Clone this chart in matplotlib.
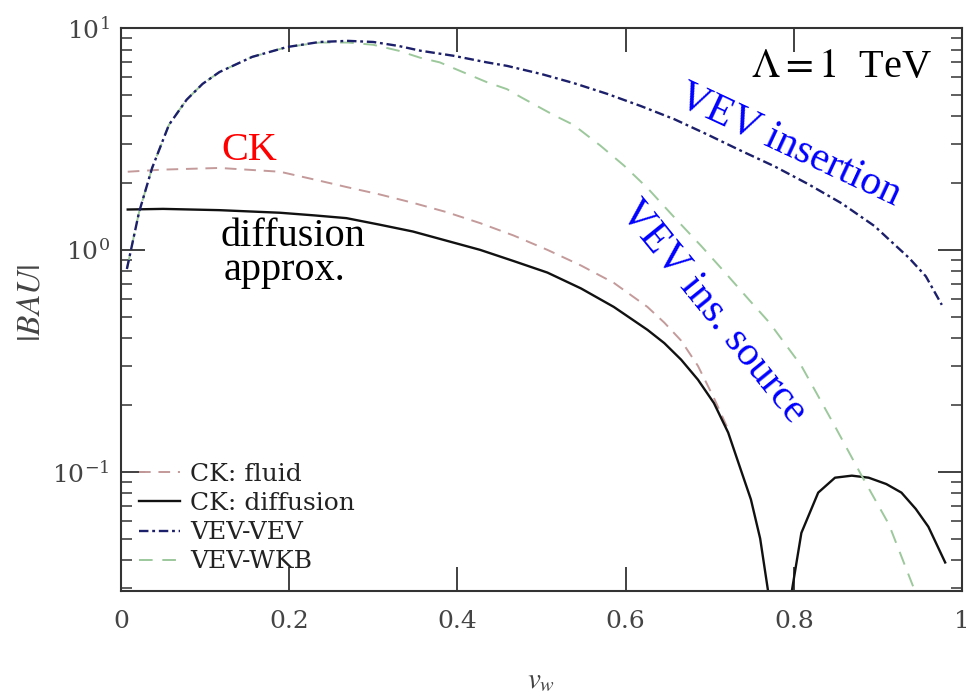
import matplotlib
matplotlib.use("Agg")
import matplotlib.pyplot as plt
from matplotlib.ticker import LogLocator, NullLocator, FixedLocator

plt.rcParams['font.family'] = ['DejaVu Serif']
plt.rcParams['mathtext.fontset'] = 'stix'

# ---- data ----
vw_vev = [0.007, 0.0215, 0.037, 0.057, 0.078, 0.097, 0.117, 0.156, 0.197, 0.236,
          0.27, 0.30, 0.33, 0.356, 0.395, 0.435, 0.459, 0.50, 0.538, 0.578,
          0.618, 0.658, 0.698, 0.737, 0.777, 0.817, 0.857, 0.896, 0.917, 0.937,
          0.957, 0.976]
bau_vev = [0.82, 1.48, 2.34, 3.66, 4.75, 5.6, 6.33, 7.41, 8.2, 8.65,
           8.75, 8.65, 8.3, 7.9, 7.5, 7.0, 6.75, 6.2, 5.65, 5.05,
           4.45, 3.88, 3.30, 2.80, 2.38, 1.98, 1.62, 1.28, 1.08, 0.92,
           0.76, 0.565]

vw_wkb = [0.007, 0.0215, 0.037, 0.057, 0.078, 0.097, 0.117, 0.156, 0.197, 0.236,
          0.27, 0.30, 0.33, 0.356, 0.379, 0.395, 0.435, 0.459, 0.475, 0.514,
          0.538, 0.570, 0.598, 0.626, 0.658, 0.690, 0.717, 0.746, 0.771, 0.809,
          0.849, 0.880, 0.913, 0.944]
bau_wkb = [0.82, 1.48, 2.34, 3.66, 4.75, 5.6, 6.33, 7.41, 8.2, 8.6,
           8.6, 8.4, 7.9, 7.34, 7.0, 6.6, 5.7, 5.3, 4.89, 4.06,
           3.66, 2.95, 2.40, 1.90, 1.40, 1.04, 0.80, 0.60, 0.47, 0.30,
           0.16, 0.097, 0.058, 0.029]

vw_fluid = [0.008, 0.05, 0.117, 0.189, 0.236, 0.268, 0.307, 0.347, 0.387, 0.427,
            0.467, 0.507, 0.547, 0.586, 0.626, 0.646, 0.666, 0.686, 0.705, 0.722]
bau_fluid = [2.25, 2.3, 2.34, 2.25, 2.05, 1.92, 1.78, 1.63, 1.48, 1.32,
             1.16, 1.0, 0.85, 0.71, 0.553, 0.47, 0.39, 0.30, 0.215, 0.155]

vw_diff = [0.008, 0.05, 0.117, 0.189, 0.23, 0.268, 0.307, 0.347, 0.387, 0.427,
           0.467, 0.507, 0.547, 0.586, 0.626, 0.646, 0.666, 0.686, 0.705, 0.722,
           0.737, 0.749, 0.760, 0.770, 0.783, 0.797, 0.809, 0.829, 0.849, 0.869,
           0.889, 0.910, 0.928, 0.945, 0.960, 0.980]
bau_diff = [1.52, 1.53, 1.51, 1.47, 1.43, 1.39, 1.30, 1.21, 1.10, 1.0,
            0.89, 0.79, 0.67, 0.553, 0.436, 0.38, 0.32, 0.26, 0.204, 0.15,
            0.102, 0.075, 0.05, 0.028, 0.001, 0.028, 0.053, 0.0805, 0.094, 0.096,
            0.094, 0.088, 0.0805, 0.068, 0.0565, 0.039]

labels = ["CK: fluid", "CK: diffusion", "VEV-VEV", "VEV-WKB"]
xticks = [0, 0.2, 0.4, 0.6, 0.8, 1]
xticklabels = ["0", "0.2", "0.4", "0.6", "0.8", "1"]

fig = plt.figure(figsize=(9.66, 6.98), dpi=100)
ax = fig.add_axes([121/966, 1-591/698, (962-121)/966, (591-28)/698])

l1, = ax.plot(vw_fluid, bau_fluid, color='#c49a9a', lw=1.4, dashes=(6, 4), label=labels[0])
l2, = ax.plot(vw_diff, bau_diff, color='#111111', lw=1.7, label=labels[1])
l4, = ax.plot(vw_wkb, bau_wkb, color='#9cc89c', lw=1.4, dashes=(7, 5), label=labels[3])
l3, = ax.plot(vw_vev, bau_vev, color='#1c1f6a', lw=1.7, dashes=(4, 1.6, 1.2, 1.6), label=labels[2])

ax.set_yscale('log')
ax.set_xlim(0, 1)
ax.set_ylim(0.029, 10)
ax.xaxis.set_major_locator(FixedLocator(xticks))
ax.set_xticklabels(xticklabels)
ax.xaxis.set_minor_locator(NullLocator())
ax.yaxis.set_major_locator(LogLocator(base=10))
ax.yaxis.set_minor_locator(LogLocator(base=10, subs=range(2, 10)))

ax.tick_params(which='both', direction='in', top=True, right=True, colors='#333333',
               labelcolor='#444444', labelsize=18)
ax.tick_params(which='major', length=17, width=1.3)
ax.tick_params(which='minor', length=8, width=1.1)
ax.tick_params(axis='x', pad=14)
ax.tick_params(axis='y', pad=8)
for s in ax.spines.values():
    s.set_color('#333333')
    s.set_linewidth(1.5)

ax.legend(handles=[l1, l2, l3, l4], loc='lower left', bbox_to_anchor=(0.0, 0.0),
          frameon=False, fontsize=18, handlelength=1.65, handletextpad=0.4,
          labelspacing=0.25, borderaxespad=0.3, labelcolor='#222222')

fig.text(30/966, 1-303/698, r'$|BAU|$', rotation=90, ha='center', va='center',
         fontsize=24, color='#444444')
fig.text(0.5*(121+962)/966, 1-680/698, r'$v_w$', ha='center', va='center',
         fontsize=21, color='#444444')

serif = 'Liberation Serif'
ax.text(0.964, 0.913, r'$\Lambda = 1$  TeV', transform=ax.transAxes, ha='right',
        va='baseline', fontsize=29, color='black', family=serif)
ax.text(0.153, 2.79, 'CK', color='red', fontsize=29, ha='center', va='center', family=serif)
ax.text(0.205, 1.04, 'diffusion', color='black', fontsize=29, ha='center', va='baseline',
        family=serif)
ax.text(0.195, 0.73, 'approx.', color='black', fontsize=29, ha='center', va='baseline',
        family=serif)
ax.text(0.795, 2.97, 'VEV insertion', color='blue', fontsize=30, ha='center', va='center',
        rotation=-25, rotation_mode='anchor', family=serif)
ax.text(0.705, 0.525, 'VEV ins. source', color='blue', fontsize=30, ha='center', va='center',
        rotation=-51, rotation_mode='anchor', family=serif)

fig.savefig('out.png', dpi=100)
